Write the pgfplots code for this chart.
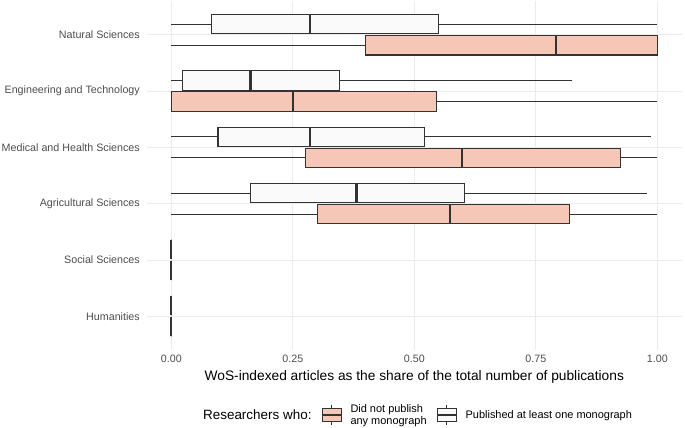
\documentclass[border=0pt]{standalone}
\usepackage{pgfplots}
\pgfplotsset{compat=1.18}
\usepgfplotslibrary{statistics}
\usepackage{fontspec}
\setmainfont{Liberation Sans}
\definecolor{salmon}{HTML}{F6C6B7}
\definecolor{offwhite}{HTML}{FAFAFA}
\definecolor{boxline}{HTML}{333333}
\definecolor{gridc}{HTML}{EBEBEB}
\definecolor{ticktext}{HTML}{4D4D4D}
\begin{document}
\begin{tikzpicture}
\path[use as bounding box] (-147bp,-78bp) rectangle (538bp,350bp);
\begin{axis}[
  scale only axis,
  width=534.6bp, height=349bp,
  xmin=-0.05, xmax=1.05, ymin=0.4, ymax=6.6,
  xtick={0,0.25,0.5,0.75,1},
  xticklabels={0.00,0.25,0.50,0.75,1.00},
  ytick={1,2,3,4,5,6},
  yticklabels={Humanities,Social Sciences,Agricultural Sciences,Medical and Health Sciences,Engineering and Technology,Natural Sciences},
  axis line style={draw=none},
  major tick length=0pt,
  grid=major,
  major grid style={gridc, line width=0.8bp},
  x tick label style={font=\fontsize{10.75}{12}\selectfont, text=ticktext, anchor=north, inner sep=0pt, yshift=-5bp},
  y tick label style={font=\fontsize{10.75}{12}\selectfont, text=ticktext, anchor=east, inner sep=0pt, xshift=-7bp},
  xlabel={WoS-indexed articles as the share of the total number of publications},
  xlabel style={font=\fontsize{13.8}{15}\selectfont, at={(axis description cs:0.5,0)}, anchor=center, yshift=-27bp},
  boxplot/box extend=0.345,
  boxplot/whisker extend=0,
  boxplot/every median/.style={line width=2.4bp},
  legend columns=3,
  legend style={draw=none, fill=none, at={(axis description cs:0.5,0)}, anchor=center, yshift=-65bp,
    cells={align=left, anchor=west, inner sep=0pt},
    /tikz/every odd column/.append style={column sep=6.5bp},
    /tikz/every even column/.append style={column sep=8bp},
    font=\fontsize{11}{12.3}\selectfont},
]
% Natural Sciences (6)
\addplot[boxplot prepared={lower whisker=0, lower quartile=0.082, median=0.285, upper quartile=0.549, upper whisker=1.0, draw position=6.1875}, draw=boxline, fill=offwhite, line width=1.1bp, forget plot] coordinates {};
\addplot[boxplot prepared={lower whisker=0, lower quartile=0.40, median=0.791, upper quartile=1.0, upper whisker=1.0, draw position=5.8125}, draw=boxline, fill=salmon, line width=1.1bp, forget plot] coordinates {};
% Engineering and Technology (5)
\addplot[boxplot prepared={lower whisker=0, lower quartile=0.0226, median=0.163, upper quartile=0.347, upper whisker=0.824, draw position=5.1875}, draw=boxline, fill=offwhite, line width=1.1bp, forget plot] coordinates {};
\addplot[boxplot prepared={lower whisker=0, lower quartile=0.0, median=0.251, upper quartile=0.545, upper whisker=1.0, draw position=4.8125}, draw=boxline, fill=salmon, line width=1.1bp, forget plot] coordinates {};
% Medical and Health Sciences (4)
\addplot[boxplot prepared={lower whisker=0, lower quartile=0.096, median=0.285, upper quartile=0.521, upper whisker=0.987, draw position=4.1875}, draw=boxline, fill=offwhite, line width=1.1bp, forget plot] coordinates {};
\addplot[boxplot prepared={lower whisker=0, lower quartile=0.276, median=0.598, upper quartile=0.925, upper whisker=1.0, draw position=3.8125}, draw=boxline, fill=salmon, line width=1.1bp, forget plot] coordinates {};
% Agricultural Sciences (3)
\addplot[boxplot prepared={lower whisker=0, lower quartile=0.163, median=0.381, upper quartile=0.603, upper whisker=0.979, draw position=3.1875}, draw=boxline, fill=offwhite, line width=1.1bp, forget plot] coordinates {};
\addplot[boxplot prepared={lower whisker=0, lower quartile=0.300, median=0.573, upper quartile=0.819, upper whisker=1.0, draw position=2.8125}, draw=boxline, fill=salmon, line width=1.1bp, forget plot] coordinates {};
% Social Sciences (2)
\addplot[boxplot prepared={lower whisker=0, lower quartile=0, median=0, upper quartile=0, upper whisker=0, draw position=2.1875}, draw=boxline, fill=offwhite, line width=1.1bp, forget plot] coordinates {};
\addplot[boxplot prepared={lower whisker=0, lower quartile=0, median=0, upper quartile=0, upper whisker=0, draw position=1.8125}, draw=boxline, fill=salmon, line width=1.1bp, forget plot] coordinates {};
% Humanities (1)
\addplot[boxplot prepared={lower whisker=0, lower quartile=0, median=0, upper quartile=0, upper whisker=0, draw position=1.1875}, draw=boxline, fill=offwhite, line width=1.1bp, forget plot] coordinates {};
\addplot[boxplot prepared={lower whisker=0, lower quartile=0, median=0, upper quartile=0, upper whisker=0, draw position=0.8125}, draw=boxline, fill=salmon, line width=1.1bp, forget plot] coordinates {};
% legend
\addlegendimage{empty legend}
\addlegendentry{\fontsize{13.5}{15}\selectfont Researchers who:}
\addlegendimage{legend image code/.code={
  \draw[boxline, line width=1.1bp] (9.7bp,-10bp)--(9.7bp,10bp);
  \draw[boxline, fill=salmon, line width=1.1bp] (0bp,-6.5bp) rectangle (19.4bp,6.5bp);
  \draw[boxline, line width=1.1bp] (0bp,0bp)--(19.4bp,0bp);}}
\addlegendentry{Did not publish\\any monograph}
\addlegendimage{legend image code/.code={
  \draw[boxline, line width=1.1bp] (9.7bp,-10bp)--(9.7bp,10bp);
  \draw[boxline, fill=offwhite, line width=1.1bp] (0bp,-6.5bp) rectangle (19.4bp,6.5bp);
  \draw[boxline, line width=1.1bp] (0bp,0bp)--(19.4bp,0bp);}}
\addlegendentry{Published at least one monograph}
\end{axis}
\end{tikzpicture}
\end{document}
